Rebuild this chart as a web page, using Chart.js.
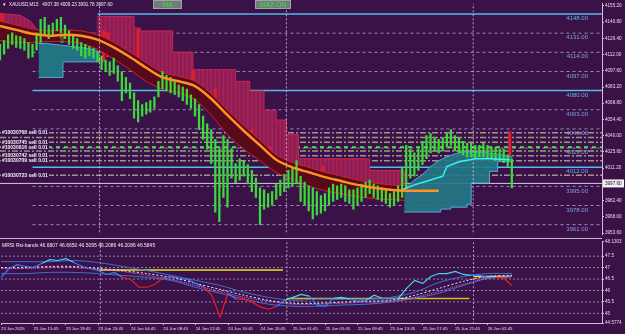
<!DOCTYPE html>
<html>
<head>
<meta charset="utf-8">
<script src="https://cdn.jsdelivr.net/npm/chart.js@4.4.1/dist/chart.umd.min.js"></script>
<style>
  html, body { margin: 0; padding: 0; background: #3a1248; width: 625px; height: 334px; overflow: hidden; }
  #mainBox { position: absolute; left: 0; top: 0; width: 625px; height: 238px; }
  #subBox { position: absolute; left: 0; top: 238px; width: 625px; height: 96px; }
</style>
</head>
<body>
<div id="mainBox"><canvas id="main" width="625" height="238"></canvas></div>
<div id="subBox"><canvas id="sub" width="625" height="96"></canvas></div>
<script>
// x axis is counted in M15 bars
const X_MAX = 296.4;

// time axis
const xTickBars = [0, 16, 32, 48, 64, 80, 96, 112, 128, 144, 160, 176, 192, 208, 224, 240];
const xTickLabels = ['23 Jun 2026', '23 Jun 15:45', '23 Jun 19:45', '23 Jun 23:45', '24 Jun 04:45', '24 Jun 08:45',
  '24 Jun 12:45', '24 Jun 16:45', '24 Jun 20:45', '25 Jun 01:45', '25 Jun 05:45', '25 Jun 09:45',
  '25 Jun 13:45', '25 Jun 17:45', '25 Jun 21:45', '26 Jun 02:45'];
const daySeparators = [49, 141, 233];

// price axis
const mainTicks = [4155.2, 4140.8, 4126.4, 4112.0, 4097.6, 4083.2, 4068.8, 4054.4, 4040.0, 4025.6, 4011.2, 3982.4, 3968.0, 3953.6];
const currentPrice = 3997.6;

// candles, one sample every 2 bars
const candleStep = 2;
const candleHigh = [4121.0, 4124.4, 4129.6, 4131.3, 4128.7, 4127.9, 4126.1, 4122.7, 4121.0, 4131.3,
  4143.3, 4145.1, 4138.2, 4139.9, 4143.3, 4145.1, 4138.2, 4133.0, 4129.6, 4126.1,
  4122.7, 4121.0, 4119.3, 4117.5, 4114.1, 4110.7, 4107.2, 4105.5, 4108.9, 4102.1,
  4096.9, 4091.7, 4086.6, 4078.0, 4071.1, 4067.7, 4069.4, 4071.1, 4074.5, 4088.3,
  4096.9, 4093.5, 4091.7, 4088.3, 4084.9, 4083.1, 4081.4, 4076.3, 4072.8, 4067.7,
  4057.3, 4050.5, 4045.3, 4036.7, 4028.1, 4040.1, 4036.7, 4028.1, 4015.2, 4019.5,
  4017.8, 4014.3, 4009.2, 4002.3, 3993.7, 3992.0, 3988.5, 3990.3, 3997.1, 4000.6,
  4005.7, 4009.2, 4010.9, 4017.8, 4004.0, 3998.9, 3995.4, 3993.7, 3990.3, 3986.8,
  3988.5, 3993.7, 3997.1, 3995.4, 3997.1, 3995.4, 3992.0, 3992.0, 3993.7, 3997.1,
  3998.9, 4000.6, 3997.1, 3995.4, 3993.7, 3992.0, 3988.5, 3990.3, 3995.4, 4010.9,
  4031.5, 4028.1, 4024.7, 4028.1, 4035.0, 4040.1, 4041.9, 4038.4, 4036.7, 4038.4,
  4041.9, 4045.3, 4040.1, 4038.4, 4035.0, 4033.3, 4033.3, 4031.5, 4031.5, 4033.3,
  4031.5, 4029.8, 4029.8, 4028.1, 4028.1, 4022.9, 4019.5];
const candleLow = [4107.2, 4112.4, 4117.5, 4121.0, 4118.4, 4117.5, 4115.8, 4108.9, 4109.8, 4115.8,
  4122.7, 4129.6, 4126.1, 4129.6, 4133.0, 4131.3, 4126.1, 4121.0, 4117.5, 4115.8,
  4110.7, 4108.9, 4110.7, 4108.9, 4105.5, 4098.6, 4096.9, 4093.5, 4095.2, 4088.3,
  4071.1, 4078.0, 4072.8, 4055.6, 4052.2, 4057.3, 4059.1, 4060.8, 4064.2, 4074.5,
  4081.4, 4079.7, 4078.0, 4076.3, 4074.5, 4071.1, 4067.7, 4064.2, 4057.3, 4045.3,
  4036.7, 4028.1, 4015.2, 3972.2, 3963.6, 3985.1, 3976.5, 4002.3, 3998.0, 4000.6,
  4004.0, 3997.1, 3990.3, 3985.1, 3961.0, 3974.8, 3976.5, 3978.2, 3983.4, 3986.8,
  3990.3, 3993.7, 3995.4, 3997.1, 3981.7, 3978.2, 3973.1, 3966.2, 3969.6, 3971.3,
  3973.1, 3978.2, 3981.7, 3983.4, 3985.1, 3981.7, 3979.9, 3974.8, 3978.2, 3981.7,
  3985.1, 3988.5, 3985.1, 3983.4, 3981.7, 3979.9, 3976.5, 3978.2, 3981.7, 3985.1,
  3993.7, 4002.3, 4004.0, 4009.2, 4014.3, 4019.5, 4024.7, 4026.4, 4024.7, 4026.4,
  4029.8, 4031.5, 4026.4, 4024.7, 4022.9, 4021.2, 4021.2, 4019.5, 4021.2, 4021.2,
  4019.5, 4019.5, 4017.8, 4017.8, 4016.1, 4012.6, 3993.7];

// moving average and its envelope, one sample every 8 bars
const maStep = 8;
const maLine = [4137.3, 4133.9, 4130.4, 4128.7, 4129.6, 4128.7, 4125.3, 4118.4, 4109.8, 4100.3,
  4091.7, 4088.3, 4084.0, 4072.8, 4058.2, 4044.4, 4031.5, 4018.6, 4011.8, 4007.5,
  4003.2, 3999.7, 3996.3, 3993.7, 3992.0, 3991.1, 3991.1, 3991.1];
const bandUpper = [4141.6, 4138.2, 4134.7, 4133.0, 4133.9, 4133.0, 4129.6, 4122.7, 4114.1, 4104.6,
  4096.0, 4092.6, 4088.3, 4077.1, 4062.5, 4048.7, 4035.8, 4022.9, 4016.1, 4011.8,
  4007.5, 4004.0, 4000.6, 3998.0, 3996.3, 3995.4];
const bandLower = [4124.4, 4122.7, 4122.7, 4123.6, 4123.6, 4121.8, 4116.7, 4108.1, 4098.6, 4088.3,
  4081.4, 4078.0, 4072.0, 4058.2, 4041.0, 4028.1, 4017.8, 4007.5, 4001.4, 3995.4,
  3991.1, 3988.5, 3986.0, 3984.2, 3983.4, 3982.5];

// crimson cloud (stepped top edge)
const crimsonBars1 = [0, 10, 15, 18];
const crimsonTop1 = [4148.5, 4146.8, 4141.6, 4134.7];
const crimsonBars2 = [48, 66, 69, 85, 95, 116, 123, 130, 136, 141, 147, 182, 199];
const crimsonTop2 = [4145.9, 4135.6, 4133.0, 4114.1, 4098.6, 4088.3, 4079.7, 4062.5, 4053.9, 4041.0, 4019.5, 4009.2, 3995.4];

// strong red histogram strokes
const histBars = [1, 51, 53, 68, 95, 106, 111, 124, 133, 159, 251];
const histTop = [4148.5, 4133.0, 4131.3, 4133.9, 4098.6, 4081.4, 4062.5, 4045.3, 4029.8, 4012.6, 4043.6];
const histBottom = [4135.6, 4105.5, 4109.8, 4108.1, 4082.3, 4062.5, 4047.9, 4030.7, 4016.9, 3999.7, 4022.1];

// teal clouds
const tealABars = [19, 23, 27, 31, 35, 39, 43, 47, 49];
const tealATop = [4121.8, 4121.8, 4121.0, 4120.1, 4119.3, 4118.4, 4117.5, 4115.8, 4114.1];
const tealABottomBars = [19, 31, 49];
const tealABottom = [4091.7, 4105.5, 4109.8];
const tealBBars = [199, 204, 208, 212, 216, 220, 224, 228, 232, 236, 240, 244, 248, 252];
const tealBTop = [3992.8, 4000.6, 4005.7, 4012.6, 4017.8, 4021.2, 4023.8, 4025.5, 4025.5, 4025.5, 4024.7, 4023.8, 4022.9, 4021.2];
const tealBBottomBars = [199, 217, 222, 230, 232, 241, 245, 252];
const tealBBottom = [3972.2, 3974.8, 3976.5, 3979.1, 3998.0, 4008.3, 4016.9, 4019.5];
const cyanBars = [198, 204, 212, 218, 220, 226, 234, 241, 251];
const cyanLine = [3992.0, 3996.3, 4000.6, 4004.0, 4012.6, 4016.9, 4019.5, 4019.5, 4018.6];

// horizontal objects
const solidLevels = [4148, 4080, 4012];
const solidStart = [48, 16, 16];
const dashedLevels = [4131, 4114, 4097, 4063, 4046, 4029, 3995, 3978, 3961];
const orderLevels = [4042.7, 4038.4, 4034.1, 4029.8, 4026.4, 4022.1, 4017.8, 4004.9];
const orderLabels = ['#10030768 sell 0.01', '', '#10030745 sell 0.01', '#10030616 sell 0.01', '',
  '#10030742 sell 0.01', '#10030709 sell 0.01', '#10030723 sell 0.01'];
const arrowBar = 30.5;
const arrowPrice = 4124.4;

// RSI window
const rsiTicks = [48.1303, 47.5, 47, 46.5, 46, 45.5, 45, 44.5774];
const rsiTickLabels = ['48.1303', '47.5', '47', '46.5', '46', '45.5', '45', '44.5774'];
const rsiGrid = [47.5, 47, 46.5, 46, 45.5, 45];
const rsiStep = 4;
const rsiValues = [46.57, 46.96, 47.13, 47.05, 47.00, 47.18, 47.35, 47.31, 47.39, 47.22,
  47.05, 46.96, 46.87, 46.70, 46.79, 46.57, 46.48, 46.14, 46.14, 46.27,
  46.57, 46.61, 46.53, 46.48, 46.31, 46.14, 45.79, 44.84, 45.88, 45.62,
  45.62, 45.49, 45.27, 45.18, 45.31, 45.57, 45.70, 45.83, 45.75, 45.36,
  45.31, 45.66, 45.70, 45.62, 45.53, 45.57, 45.79, 45.66, 45.66, 45.66,
  46.09, 46.44, 46.31, 46.61, 46.74, 46.74, 46.83, 46.70, 46.66, 46.66,
  46.57, 46.57, 46.53, 46.22];
const rsiBandStep = 12;
const rsiUpper = [47.26, 47.26, 47.26, 47.31, 47.22, 47.05, 46.87, 46.66, 46.44, 46.22, 45.92,
  45.70, 45.57, 45.62, 45.62, 45.62, 45.70, 45.92, 46.35, 46.61, 46.74, 46.74];
const rsiLower = [46.74, 46.74, 46.79, 46.79, 46.74, 46.66, 46.57, 46.44, 46.14, 45.88, 45.62,
  45.40, 45.31, 45.31, 45.36, 45.40, 45.49, 45.66, 45.88, 46.22, 46.53, 46.61];
const rsiMid = [47.00, 47.00, 47.05, 47.05, 46.96, 46.87, 46.74, 46.57, 46.31, 46.05, 45.79,
  45.57, 45.44, 45.44, 45.49, 45.53, 45.57, 45.79, 46.09, 46.40, 46.61, 46.66];
const rsiSignal = [46.96, 46.96, 47.00, 47.00, 46.92, 46.83, 46.66, 46.48, 46.22, 45.96, 45.70,
  45.53, 45.40, 45.40, 45.44, 45.49, 45.53, 45.70, 45.96, 46.27, 46.53, 46.61];
const rsiLevels = [46.90, 45.65, 46.61];
const rsiLevelFrom = [48.5, 141, 233];
const rsiLevelTo = [139, 231, 251.5];

const FONT = '"Liberation Sans", Arial, sans-serif';
const NARROW = '"Liberation Sans Narrow", "Liberation Sans", Arial, sans-serif';
const AXIS = '#cdbedb';
const TXT = '#e4dcec';

function pts(bars, values) { return values.map((v, i) => ({ x: bars[i], y: v })); }
function even(step, values) { return values.map((v, i) => ({ x: i * step, y: v })); }
function hline(v, from, to) { return [{ x: from, y: v }, { x: to, y: v }]; }
function line(data, color, width, order, extra) {
  return Object.assign({ type: 'line', data, borderColor: color, borderWidth: width, pointRadius: 0, fill: false, order }, extra || {});
}
function linearAt(bars, vals, b) {
  for (let i = 0; i < bars.length - 1; i++) {
    if (b >= bars[i] && b <= bars[i + 1]) return vals[i] + (vals[i + 1] - vals[i]) * (b - bars[i]) / (bars[i + 1] - bars[i]);
  }
  return null;
}
function stepAt(bars, vals, b) {
  if (b < bars[0] || b > bars[bars.length - 1]) return null;
  let v = vals[0];
  bars.forEach((bb, i) => { if (bb <= b) v = vals[i]; });
  return v;
}
function evenAt(step, vals, b) {
  const i = Math.min(Math.floor(b / step), vals.length - 2);
  return vals[i] + (vals[i + 1] - vals[i]) * (b - i * step) / step;
}

// thin hatching inside the crimson cloud, from its top edge down to the envelope
const crimsonHatch = [];
for (let b = 0; b <= 198; b += 2) {
  const top = b <= 18 ? linearAt(crimsonBars1, crimsonTop1, b) : stepAt(crimsonBars2, crimsonTop2, b);
  if (top === null) continue;
  const bottom = evenAt(maStep, bandUpper, b);
  if (top > bottom) crimsonHatch.push({ x: b, y: [bottom, top] });
}

// ---------- main window ----------
const mainSets = [];
function add(ds) { mainSets.push(ds); return mainSets.length - 1; }

dashedLevels.forEach(v => add(line(hline(v, 16, X_MAX), '#9d89c4', 1, 100, { borderDash: [3, 3] })));
solidLevels.forEach((v, i) => add(line(hline(v, solidStart[i], X_MAX), '#55b9ea', 1.5, 100)));
orderLevels.forEach((v, i) => add(line(hline(v, 0, X_MAX), i === 3 ? '#3fe23f' : 'rgba(175,172,150,0.85)', i === 3 ? 2 : 1.5, 99,
  { borderDash: i === 3 ? [4, 4] : [6, 2, 2, 2] })));
add(line(hline(currentPrice, 0, X_MAX), '#d4c6e0', 1, 98));

const upIdx = add(line(even(maStep, bandUpper), '#d61e2c', 1, 80, { tension: 0.3 }));
add(line(even(maStep, bandLower), '#d61e2c', 1, 80, { tension: 0.3, fill: upIdx, backgroundColor: '#560a1a' }));
add(line(pts(crimsonBars1, crimsonTop1), '#c4265a', 1, 90, { fill: upIdx, backgroundColor: '#8a1d55' }));
add(line(pts(crimsonBars2, crimsonTop2), '#c4265a', 1, 90, { stepped: true, fill: upIdx, backgroundColor: '#8a1d55' }));
add({ type: 'bar', data: crimsonHatch, backgroundColor: 'rgba(240,50,80,0.3)', barThickness: 1, grouped: false, order: 89 });
add({ type: 'bar', data: histBars.map((b, i) => ({ x: b, y: [histBottom[i], histTop[i]] })), backgroundColor: '#e21c2a',
  barThickness: 2.5, grouped: false, order: 88 });

const tealABot = add(line(pts(tealABottomBars, tealABottom), '#58a6d6', 1, 70, { stepped: true }));
add(line(pts(tealABars, tealATop), '#58a6d6', 1, 70, { fill: tealABot, backgroundColor: 'rgba(34,122,134,0.95)' }));
const tealBBot = add(line(pts(tealBBottomBars, tealBBottom), '#58a6d6', 1, 70, { stepped: true }));
add(line(pts(tealBBars, tealBTop), '#58a6d6', 1, 70, { tension: 0.2, fill: tealBBot, backgroundColor: 'rgba(34,122,134,0.9)' }));

daySeparators.forEach(b => add(line([{ x: b, y: 3940 }, { x: b, y: 4170 }], 'rgba(225,210,240,0.75)', 1, 60, { borderDash: [2, 2] })));

add({ type: 'bar', data: candleHigh.map((h, i) => ({ x: i * candleStep, y: [candleLow[i], h] })),
  backgroundColor: '#3bd93b', barThickness: 1.6, grouped: false, order: 30 });
add(line(pts(cyanBars, cyanLine), '#3ff2f2', 1.5, 25));
add(line(even(maStep, maLine), '#ff9222', 2.5, 20, { tension: 0.3 }));

const mainOverlay = {
  id: 'mainOverlay',
  afterDatasetsDraw(chart) {
    const { ctx, scales: { x, y } } = chart;
    ctx.save();
    // level captions
    ctx.font = `6px ${FONT}`;
    ctx.textAlign = 'right';
    ctx.textBaseline = 'top';
    solidLevels.concat(dashedLevels).forEach(v => {
      ctx.fillStyle = solidLevels.includes(v) ? '#62b4e6' : '#8a9ee2';
      ctx.fillText(v.toFixed(2), x.getPixelForValue(289.5), y.getPixelForValue(v) + 1.5);
    });
    // order tickets
    ctx.font = `bold 5px ${FONT}`;
    ctx.textAlign = 'left';
    ctx.textBaseline = 'middle';
    orderLevels.forEach((v, i) => {
      if (!orderLabels[i]) return;
      const py = y.getPixelForValue(v);
      ctx.fillStyle = '#3a1248';
      ctx.fillRect(1, py - 3, 48, 6);
      ctx.fillStyle = '#f4f4f4';
      ctx.fillText(orderLabels[i], 2, py);
    });
    // buy arrow
    ctx.font = `10px "DejaVu Sans", sans-serif`;
    ctx.textAlign = 'center';
    ctx.fillStyle = '#42e442';
    ctx.fillText('\u21e7', x.getPixelForValue(arrowBar), y.getPixelForValue(arrowPrice));
    // header
    ctx.font = `4.6px ${FONT}`;
    ctx.textAlign = 'left';
    ctx.textBaseline = 'top';
    ctx.fillStyle = '#eeeeee';
    ctx.fillText('\u25bc  XAUUSD,M15   4007.38 4009.23 3991.78 3997.60', 2, 2);
    // buttons
    [['MA', 153, 29], ['MA2 ON', 255, 36]].forEach(([t, bx, bw]) => {
      ctx.fillStyle = '#6f7c7a';
      ctx.fillRect(bx, 0, bw, 9);
      ctx.strokeStyle = '#9aa6a4';
      ctx.lineWidth = 1;
      ctx.strokeRect(bx + 0.5, 0.5, bw - 1, 8);
      ctx.fillStyle = '#3ee03e';
      ctx.font = `7px ${FONT}`;
      ctx.textAlign = 'center';
      ctx.textBaseline = 'middle';
      ctx.fillText(t, bx + bw / 2, 5);
    });
    ctx.restore();
  },
  afterDraw(chart) {
    const { ctx, scales: { y } } = chart;
    const py = y.getPixelForValue(currentPrice);
    ctx.save();
    ctx.fillStyle = '#f4f0f6';
    ctx.fillRect(603, py - 4, 21, 8);
    ctx.fillStyle = '#111';
    ctx.font = `4.6px ${FONT}`;
    ctx.textAlign = 'left';
    ctx.textBaseline = 'middle';
    ctx.fillText(currentPrice.toFixed(2), 605, py);
    ctx.restore();
  }
};

new Chart(document.getElementById('main'), {
  type: 'line',
  data: { datasets: mainSets },
  options: {
    responsive: false, animation: false, events: [],
    layout: { padding: 0, autoPadding: false },
    plugins: { legend: { display: false }, tooltip: { enabled: false } },
    scales: {
      x: { type: 'linear', min: 0, max: X_MAX, offset: false, display: false },
      y: {
        position: 'right', min: 3952.5, max: 4157.1,
        afterFit: s => { s.width = 23; },
        afterBuildTicks: s => { s.ticks = mainTicks.map(v => ({ value: v })); },
        ticks: { callback: v => v.toFixed(2), color: TXT, font: { size: 4.6, family: FONT }, padding: 1, autoSkip: false },
        grid: { drawOnChartArea: false, drawTicks: true, tickLength: 2, color: AXIS },
        border: { display: true, color: AXIS }
      }
    }
  },
  plugins: [mainOverlay]
});

// ---------- RSI window ----------
const subSets = [];
rsiGrid.forEach(v => subSets.push(line(hline(v, 0, X_MAX), 'rgba(215,200,232,0.6)', 1, 100, { borderDash: [2, 2] })));
daySeparators.forEach(b => subSets.push(line([{ x: b, y: 44 }, { x: b, y: 49 }], 'rgba(225,210,240,0.75)', 1, 100, { borderDash: [2, 2] })));
rsiLevels.forEach((v, i) => subSets.push(line(hline(v, rsiLevelFrom[i], rsiLevelTo[i]), i === 1 ? '#c9c21e' : '#f0e21e', 1.5, 60)));
subSets.push(line(even(rsiBandStep, rsiUpper), '#3f6fd6', 1, 50, { tension: 0.3 }));
subSets.push(line(even(rsiBandStep, rsiLower), '#3f6fd6', 1, 50, { tension: 0.3 }));
subSets.push(line(even(rsiBandStep, rsiMid), '#f0e8f4', 1, 45, { tension: 0.3, borderDash: [2, 2] }));
subSets.push(line(even(rsiBandStep, rsiSignal), '#e46ac8', 1, 45, { tension: 0.3, borderDash: [1, 1] }));
subSets.push(line(even(rsiStep, rsiValues), '#3fd6f0', 1.2, 10, {
  segment: {
    borderColor: c => {
      const bx = (c.p0.parsed.x + c.p1.parsed.x) / 2;
      const v = (c.p0.parsed.y + c.p1.parsed.y) / 2;
      if (v < evenAt(rsiBandStep, rsiLower, bx)) return '#f01c1c';
      if (v > evenAt(rsiBandStep, rsiUpper, bx)) return '#3fd6f0';
      return '#3b7cf2';
    }
  }
}));

const subOverlay = {
  id: 'subOverlay',
  afterDraw(chart) {
    const { ctx, chartArea } = chart;
    ctx.save();
    ctx.strokeStyle = '#c2b4d0';
    ctx.lineWidth = 1;
    ctx.beginPath();
    ctx.moveTo(0, 0.5);
    ctx.lineTo(chartArea.right, 0.5);
    ctx.stroke();
    ctx.font = `5px ${FONT}`;
    ctx.fillStyle = '#f0f0f0';
    ctx.textAlign = 'left';
    ctx.textBaseline = 'top';
    ctx.fillText('MRSI Rsi-bands 46.6807 46.6650 46.5095 46.2086 46.2086 46.5845', 2, 5);
    ctx.restore();
  }
};

new Chart(document.getElementById('sub'), {
  type: 'line',
  data: { datasets: subSets },
  options: {
    responsive: false, animation: false, events: [],
    layout: { padding: { top: 3, left: 0, right: 0, bottom: 0 }, autoPadding: false },
    plugins: { legend: { display: false }, tooltip: { enabled: false } },
    scales: {
      x: {
        type: 'linear', min: 0, max: X_MAX, offset: false,
        afterFit: s => { s.height = 11; },
        afterBuildTicks: s => { s.ticks = xTickBars.map(v => ({ value: v })); },
        ticks: { callback: (v, i) => xTickLabels[i], autoSkip: false, maxRotation: 0, minRotation: 0, align: 'start',
          padding: 1, color: TXT, font: { size: 4.3, family: NARROW } },
        grid: { drawOnChartArea: false, drawTicks: true, tickLength: 2, color: AXIS },
        border: { display: true, color: AXIS }
      },
      y: {
        position: 'right', min: 44.5774, max: 48.1303,
        afterFit: s => { s.width = 23; },
        afterBuildTicks: s => { s.ticks = rsiTicks.map(v => ({ value: v })); },
        ticks: { callback: (v, i) => rsiTickLabels[i], color: TXT, font: { size: 4.6, family: FONT }, padding: 1, autoSkip: false },
        grid: { drawOnChartArea: false, drawTicks: true, tickLength: 2, color: AXIS },
        border: { display: true, color: AXIS }
      }
    }
  },
  plugins: [subOverlay]
});
</script>
</body>
</html>
